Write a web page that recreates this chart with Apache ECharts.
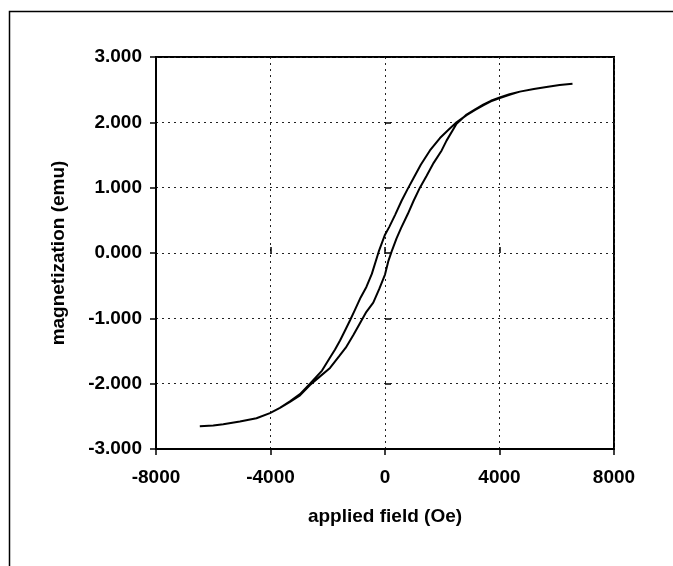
<!DOCTYPE html>
<html>
<head>
<meta charset="utf-8">
<script src="https://cdn.jsdelivr.net/npm/echarts@6/dist/echarts.min.js"></script>
<style>
html,body{margin:0;padding:0;background:#fff;}
#c{width:673px;height:566px;}
</style>
</head>
<body>
<div id="c"></div>
<script>
// Descending-field branch (applied field Oe, magnetization emu)
const descField = [6550, 6100, 5640, 5200, 4710, 4350, 4010, 3700, 3430, 3150, 2850, 2500, 2200, 1920, 1570, 1250, 990, 780, 580, 350, 150, 0, -220, -460, -650, -850, -1050, -1220, -1400, -1570, -1750, -1920, -2200, -2620, -2970, -3320, -3670, -4020, -4490, -5070, -5650, -6000, -6470];
const descMag = [2.59, 2.57, 2.54, 2.51, 2.47, 2.42, 2.37, 2.32, 2.26, 2.19, 2.11, 2.00, 1.88, 1.76, 1.57, 1.35, 1.14, 0.97, 0.80, 0.58, 0.40, 0.28, 0.02, -0.32, -0.52, -0.68, -0.87, -1.03, -1.19, -1.34, -1.48, -1.60, -1.80, -2.00, -2.16, -2.27, -2.37, -2.45, -2.53, -2.58, -2.62, -2.64, -2.65];
// Ascending-field branch
const ascField = [-6470, -6000, -5650, -5070, -4490, -4020, -3670, -3320, -2970, -2620, -2300, -1920, -1600, -1370, -1100, -870, -650, -410, -200, 0, 120, 230, 400, 560, 800, 1000, 1220, 1450, 1700, 1980, 2150, 2500, 2850, 3150, 3430, 3700, 4010, 4350, 4710, 5200, 5640, 6100, 6550];
const ascMag = [-2.65, -2.64, -2.62, -2.58, -2.53, -2.45, -2.37, -2.28, -2.18, -2.02, -1.90, -1.76, -1.58, -1.45, -1.25, -1.07, -0.90, -0.76, -0.55, -0.33, -0.12, 0.02, 0.22, 0.38, 0.60, 0.80, 1.00, 1.18, 1.38, 1.57, 1.72, 1.98, 2.12, 2.20, 2.27, 2.33, 2.38, 2.43, 2.47, 2.51, 2.54, 2.57, 2.59];

const xTicks = [-8000, -4000, 0, 4000, 8000];
const yTicks = [-3, -2, -1, 0, 1, 2, 3];
const xTitle = 'applied field (Oe)';
const yTitle = 'magnetization (emu)';

const loop = descField.map((h, i) => [h, descMag[i]])
  .concat(ascField.map((h, i) => [h, ascMag[i]]));

const font = '"Liberation Sans", Arial, Helvetica, sans-serif';
const chart = echarts.init(document.getElementById('c'), null, {renderer: 'canvas'});
const gridLine = {show: true, lineStyle: {color: '#222', width: 1, type: [2, 4]}};
chart.setOption({
  animation: false,
  backgroundColor: '#fff',
  graphic: [{
    type: 'rect', left: 7, top: 9, z: -1,
    shape: {width: 720, height: 620},
    style: {fill: 'none', stroke: '#000', lineWidth: 1.5}
  }],
  grid: {left: 156, right: 59, top: 57, bottom: 117, show: true, borderColor: '#000', borderWidth: 2, backgroundColor: 'transparent'},
  xAxis: [{
    type: 'value', min: xTicks[0], max: xTicks[xTicks.length - 1], interval: 4000,
    name: xTitle, nameLocation: 'middle', nameGap: 58,
    nameTextStyle: {fontFamily: font, fontSize: 19, fontWeight: 'bold', color: '#000'},
    axisLine: {show: true, onZero: false, lineStyle: {color: '#000', width: 2}},
    axisTick: {show: true, length: 6, lineStyle: {color: '#000', width: 1.5}},
    axisLabel: {margin: 19, fontFamily: font, fontSize: 19, fontWeight: 'bold', color: '#000',
      formatter: v => String(v)},
    splitLine: gridLine
  }, {
    type: 'value', min: xTicks[0], max: xTicks[xTicks.length - 1], interval: 4000,
    position: 'bottom',
    axisLine: {show: false}, axisLabel: {show: false}, splitLine: {show: false},
    axisTick: {show: true, inside: true, length: 6, lineStyle: {color: '#000', width: 1.5}}
  }],
  yAxis: [{
    type: 'value', min: yTicks[0], max: yTicks[yTicks.length - 1], interval: 1,
    name: yTitle, nameLocation: 'middle', nameGap: 88, nameRotate: 90,
    nameTextStyle: {fontFamily: font, fontSize: 19, fontWeight: 'bold', color: '#000'},
    axisLine: {show: true, onZero: false, lineStyle: {color: '#000', width: 2}},
    axisTick: {show: true, length: 6, lineStyle: {color: '#000', width: 1.5}},
    axisLabel: {margin: 14, fontFamily: font, fontSize: 19, fontWeight: 'bold', color: '#000',
      formatter: v => v.toFixed(3)},
    splitLine: gridLine
  }, {
    type: 'value', min: yTicks[0], max: yTicks[yTicks.length - 1], interval: 1,
    position: 'left',
    axisLine: {show: false}, axisLabel: {show: false}, splitLine: {show: false},
    axisTick: {show: true, inside: true, length: 6, lineStyle: {color: '#000', width: 1.5}}
  }],
  series: [{
    type: 'line', xAxisIndex: 0, yAxisIndex: 0,
    data: loop, showSymbol: false, smooth: false,
    lineStyle: {color: '#000', width: 2}
  }]
});
</script>
</body>
</html>
